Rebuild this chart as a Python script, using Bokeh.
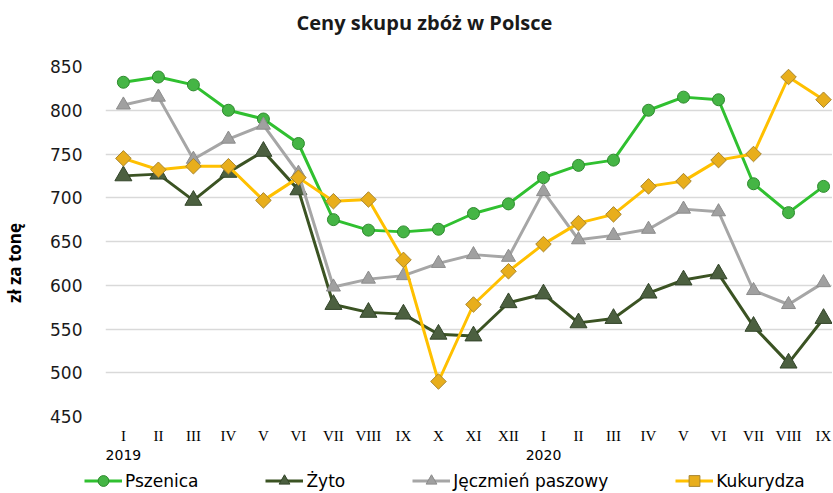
import math
from bokeh.plotting import figure
from bokeh.layouts import column
from bokeh.models import Range1d, FixedTicker, LinearAxis, Legend, LegendItem, Label
from bokeh.embed import file_html
from bokeh.resources import INLINE

# ---- data ----
title_text = "Ceny skupu zbóż w Polsce"
months = ["I", "II", "III", "IV", "V", "VI", "VII", "VIII", "IX", "X", "XI", "XII",
          "I", "II", "III", "IV", "V", "VI", "VII", "VIII", "IX"]
year_labels = {0: "2019", 12: "2020"}
pszenica = [832, 838, 829, 800, 790, 762, 675, 663, 661, 664, 682, 693,
            723, 737, 743, 800, 815, 812, 716, 683, 713]
zyto = [725, 727, 697, 729, 753, 709, 578, 569, 567, 544, 542, 580,
        590, 557, 562, 591, 606, 613, 553, 511, 562]
jeczmien = [806, 815, 744, 767, 783, 728, 598, 607, 611, 625, 635, 632,
            707, 652, 657, 664, 687, 684, 594, 578, 603]
kukurydza = [745, 732, 736, 736, 697, 723, 696, 698, 629, 490, 578, 616,
             647, 671, 681, 713, 719, 743, 750, 838, 812]
y_ticks = [450, 500, 550, 600, 650, 700, 750, 800, 850]
series_names = ["Pszenica", "Żyto", "Jęczmień paszowy", "Kukurydza"]

x = list(range(len(months)))


def strip(height, xr, yr):
    f = figure(width=832, height=height, output_backend="svg",
               toolbar_location=None, x_range=xr, y_range=yr,
               x_axis_location=None, y_axis_location=None,
               min_border_left=0, min_border_right=0, min_border_top=0,
               min_border_bottom=0)
    f.outline_line_color = None
    f.xgrid.visible = False
    f.ygrid.visible = False
    f.background_fill_color = "white"
    f.border_fill_color = "white"
    if "frame_align" in f.properties():
        f.frame_align = False
    return f


# ---- title strip ----
ts = strip(45, Range1d(0, 832), Range1d(45, 0))
ts.add_layout(Label(x=296, y=21.5, text=title_text, text_align="left",
                    text_baseline="middle", text_font="Open Sans",
                    text_font_style="bold", text_font_size="20px",
                    text_color="#1a1a1a"))

# ---- main chart ----
p = figure(width=832, height=420, output_backend="svg", toolbar_location=None,
           x_range=Range1d(-0.511, 20.256), y_range=Range1d(450, 850),
           min_border_left=101, min_border_right=0, min_border_top=21,
           min_border_bottom=49)
p.outline_line_color = None
p.background_fill_color = "white"
p.border_fill_color = "white"

# x axis (months)
xa = p.xaxis[0]
xa.ticker = FixedTicker(ticks=x)
xa.major_label_overrides = {i: m for i, m in zip(x, months)}
xa.axis_line_color = None
xa.major_tick_line_color = None
xa.minor_tick_line_color = None
xa.major_label_text_font = "Liberation Serif"
xa.major_label_text_font_size = "15px"
xa.major_label_text_color = "#000000"
xa.major_label_standoff = 5

# x axis (years)
ya2 = LinearAxis(ticker=FixedTicker(ticks=list(year_labels.keys())),
                 major_label_overrides=year_labels)
ya2.axis_line_color = None
ya2.major_tick_line_color = None
ya2.minor_tick_line_color = None
ya2.major_label_text_font = "DejaVu Sans"
ya2.major_label_text_font_size = "14px"
ya2.major_label_text_color = "#000000"
ya2.major_label_standoff = -3
p.add_layout(ya2, "below")

# y axis
ya = p.yaxis[0]
ya.ticker = FixedTicker(ticks=y_ticks)
ya.axis_line_color = None
ya.major_tick_line_color = None
ya.minor_tick_line_color = None
ya.major_label_text_font = "DejaVu Sans"
ya.major_label_text_font_size = "17px"
ya.major_label_text_color = "#1a1a1a"
ya.major_label_standoff = 17
ya.axis_label = "zł za tonę" + "\u2003" * 2 + "\u00a0" * 2
ya.axis_label_text_font = "Open Sans"
ya.axis_label_text_font_style = "bold"
ya.axis_label_text_font_size = "17px"
ya.axis_label_text_color = "#000000"
ya.axis_label_standoff = 21

p.xgrid.visible = False
p.ygrid.ticker = FixedTicker(ticks=y_ticks)
p.ygrid.grid_line_color = "#d9d9d9"
p.ygrid.grid_line_width = 1.5

styles = [
    (pszenica, "#30C030", "circle", 12, "#45B545", "#2D8A2D", 0),
    (zyto, "#3B5323", "triangle", 17, "#4C6040", "#33452A", 0),
    (jeczmien, "#A6A6A6", "triangle", 14, "#A0A0A0", "#8C8C8C", 0),
    (kukurydza, "#FFC000", "square", 11, "#E8AE1C", "#A88630", math.pi / 4),
]

# ---- legend strip: same series, drawn where its y range excludes them ----
lg = strip(27, Range1d(-0.511, 20.256), Range1d(0, 1))
unaligned = "frame_align" in lg.properties()
leg_x, leg_spacing = (84, 67) if unaligned else (0, 61)

items = []
for name, (vals, lc, mk, sz, fc, oc, ang) in zip(series_names, styles):
    p.line(x, vals, line_color=lc, line_width=3)
    p.scatter(x, vals, marker=mk, size=sz, fill_color=fc, line_color=oc,
              line_width=1, angle=ang)
    l2 = lg.line(x, vals, line_color=lc, line_width=3)
    s2 = lg.scatter(x, vals, marker=mk, size=sz, fill_color=fc, line_color=oc,
                    line_width=1, angle=ang)
    items.append(LegendItem(label=name, renderers=[l2, s2]))

legend = Legend(items=items, orientation="horizontal", location=(leg_x, -2),
                glyph_width=38, glyph_height=27, label_height=27,
                label_standoff=3, spacing=leg_spacing, padding=0, margin=0,
                border_line_color=None, background_fill_alpha=0,
                label_text_font="DejaVu Sans", label_text_font_size="17px",
                label_text_color="#000000")
lg.add_layout(legend, "center")

layout = column(ts, p, lg, spacing=0)
open("out.html", "w").write(file_html(layout, INLINE))
